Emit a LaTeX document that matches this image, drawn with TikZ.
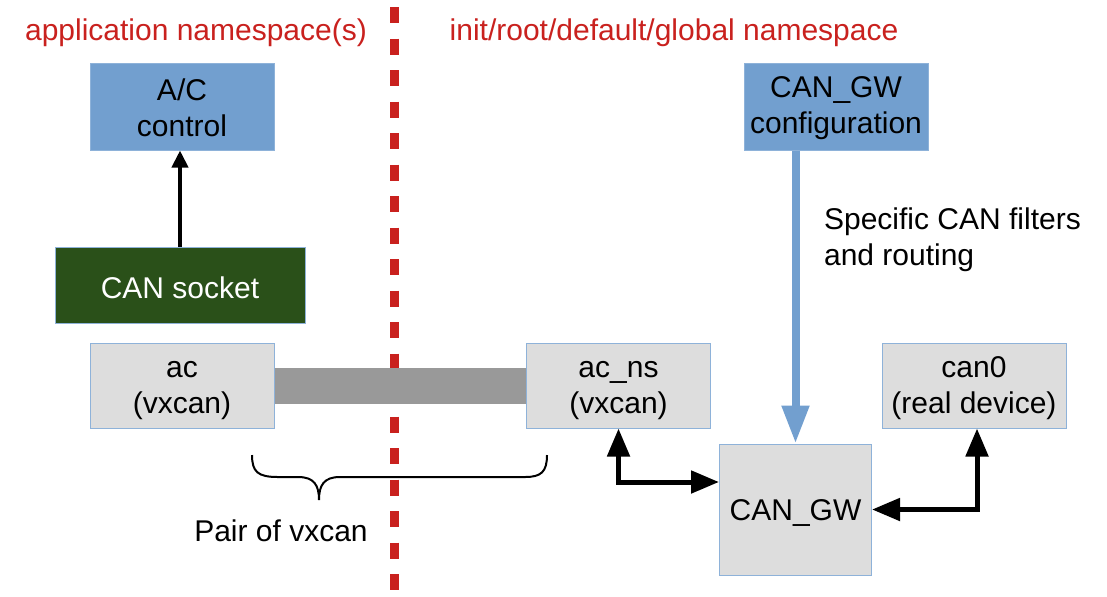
\documentclass[tikz,border=0pt]{standalone}
\usepackage{fontspec}
\setmainfont{Liberation Sans}
\usetikzlibrary{arrows.meta,calc}

\definecolor{nsred}{HTML}{C9211E}
\definecolor{boxblue}{HTML}{729FCF}
\definecolor{boxgray}{HTML}{DDDDDD}
\definecolor{sockgreen}{RGB}{42,80,25}
\definecolor{pipegray}{HTML}{999999}

\tikzset{
    devbox/.style={draw=boxblue!80, line width=0.5pt, fill=boxgray, align=center,
        minimum width=92pt, minimum height=42.5pt, inner sep=0pt},
    appbox/.style={devbox, fill=boxblue, minimum height=43.5pt},
    twoline/.style={text height=30.6pt},
    nstitle/.style={text=nsred},
    link/.style={line width=2.5pt, {Triangle[length=14pt,width=11pt]}-{Triangle[length=14pt,width=11pt]}},
}

\begin{document}
\begin{tikzpicture}[x=0.5pt, y=-0.5pt, every node/.style={font=\fontsize{15}{18}\selectfont,
        execute at begin node=\rule{0pt}{14pt}}]
    \useasboundingbox (0, 0) rectangle (1107, 596);

    % namespaces
    \node[nstitle] (appns) at (196, 30) {application namespace(s)};
    \node[nstitle] (initns) at (674, 30) {init/root/default/global namespace};
    \draw[nsred, line width=4.5pt, dash pattern=on 8pt off 7.75pt] (394.5, 7) -- (394.5, 596);

    % application side
    \node[appbox, twoline] (acctrl) at (182, 106.5) {A/C\\control};
    \node[devbox, fill=sockgreen, text=white, minimum width=125pt, minimum height=38pt] (socket) at (180, 285) {CAN socket};
    \node[devbox, twoline] (ac) at (182, 385.5) {ac\\(vxcan)};

    % init side
    \node[appbox, twoline] (gwconf) at (836, 106.5) {CAN\_GW\\configuration};
    \node[devbox, twoline] (acns) at (618.5, 385.5) {ac\_ns\\(vxcan)};
    \node[devbox, twoline] (can0) at (974, 385.5) {can0\\(real device)};
    \node[devbox, minimum width=76pt, minimum height=65.5pt] (gw) at (795.5, 509.5) {CAN\_GW};
    \node[twoline, anchor=west, align=left] (filters) at (817, 238) {Specific CAN filters\\and routing};

    % vxcan pair
    \draw[pipegray, line width=18pt] (ac.east) -- (acns.west);
    \draw[line width=1pt] (252, 455) .. controls (252, 472) and (258, 477) .. (278, 477)
        -- (298, 477) .. controls (314, 477) and (319, 485) .. (319, 500)
        .. controls (319, 485) and (324, 477) .. (340, 477)
        -- (525, 477) .. controls (541, 477) and (547, 472) .. (547, 455);
    \node (pair) at (281, 528) {Pair of vxcan};

    % connections
    \draw[line width=2pt, -{Triangle[length=8.5pt,width=8pt]}] (socket.north) -- (socket.north |- acctrl.south);
    \draw[boxblue, line width=4pt, -{Triangle[length=19pt,width=13pt]}] (gw.north |- gwconf.south) -- (gw.north);
    \draw[link] (acns.south) |- ([yshift=13.75pt]gw.west);
    \draw[link] (gw.east) -| ([xshift=1.5pt]can0.south);
\end{tikzpicture}
\end{document}
